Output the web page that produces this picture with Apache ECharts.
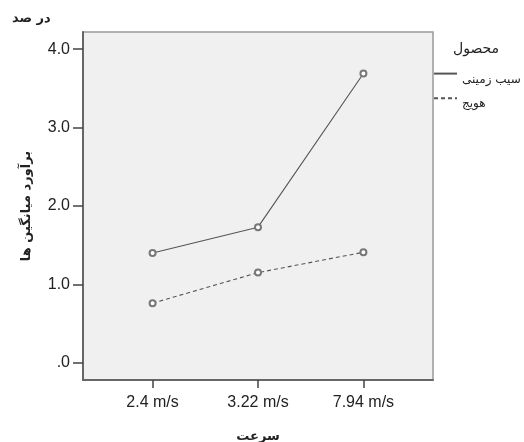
<!DOCTYPE html>
<html>
<head>
<meta charset="utf-8">
<script src="https://cdn.jsdelivr.net/npm/echarts@6/dist/echarts.min.js"></script>
<style>
html,body{margin:0;padding:0;background:#fff;}
#c{width:524px;height:442px;}
</style>
</head>
<body>
<div id="c"></div>
<script>
const categories = ['2.4 m/s', '3.22 m/s', '7.94 m/s'];
const potato = [1.40, 1.73, 3.69];
const carrot = [0.76, 1.15, 1.41];
const seriesNames = ['سیب زمینی', 'هویج'];
const yTickLabels = {0: '.0', 1: '1.0', 2: '2.0', 3: '3.0', 4: '4.0'};

const arFont = 'DejaVu Sans';
const latFont = 'Liberation Sans, Arial, sans-serif';

const chart = echarts.init(document.getElementById('c'), null, {renderer: 'canvas'});
chart.setOption({
  backgroundColor: '#ffffff',
  animation: false,
  title: [
    {text: 'در صد', left: 12, top: 12, padding: 0, textStyle: {fontFamily: arFont, fontSize: 13, fontWeight: 'bold', color: '#222'}},
    {text: 'محصول', left: 453, top: 42, padding: 0, textStyle: {fontFamily: arFont, fontSize: 14, fontWeight: 'normal', color: '#222'}}
  ],
  legend: {
    orient: 'vertical',
    left: 433,
    top: 67,
    padding: 0,
    itemWidth: 23,
    itemHeight: 14,
    itemGap: 6,
    data: seriesNames,
    itemStyle: {opacity: 0},
    formatter: '{t|{name}}',
    textStyle: {
      fontFamily: arFont, fontSize: 12, color: '#222',
      rich: {t: {fontFamily: arFont, fontSize: 12, color: '#222', padding: [12, 0, 0, 0]}}
    }
  },
  grid: {
    left: 83, top: 32, right: 91, bottom: 62,
    show: true, backgroundColor: '#f0f0f0', borderColor: '#999', borderWidth: 1.5,
    containLabel: false,
    outerBoundsMode: 'none'
  },
  xAxis: {
    type: 'value',
    min: -0.66, max: 2.66, splitNumber: 3,
    name: 'سرعت', nameLocation: 'middle', nameGap: 50,
    nameTextStyle: {fontFamily: arFont, fontSize: 13, fontWeight: 'bold', color: '#222'},
    axisLine: {show: true, onZero: false, lineStyle: {color: '#666', width: 2}},
    axisTick: {show: true, length: 8, lineStyle: {color: '#444', width: 1.5},
      customValues: [0, 1, 2]},
    splitLine: {show: false},
    axisLabel: {
      margin: 15, fontFamily: latFont, fontSize: 16, color: '#222',
      customValues: [0, 1, 2],
      formatter: function (v) { const i = Math.round(v); return Math.abs(v - i) < 1e-6 && categories[i] ? categories[i] : ''; }
    }
  },
  yAxis: {
    type: 'value',
    min: -0.22, max: 4.22,
    name: 'برآورد میانگین ها', nameLocation: 'middle', nameGap: 50, nameRotate: 90,
    nameTextStyle: {fontFamily: arFont, fontSize: 13, fontWeight: 'bold', color: '#222'},
    axisLine: {show: true, onZero: false, lineStyle: {color: '#666', width: 2}},
    axisTick: {show: true, length: 10, lineStyle: {color: '#444', width: 1.5},
      customValues: [0, 1, 2, 3, 4]},
    splitLine: {show: false},
    axisLabel: {
      margin: 13, fontFamily: latFont, fontSize: 16, color: '#222',
      customValues: [0, 1, 2, 3, 4],
      formatter: function (v) { const i = Math.round(v); return Math.abs(v - i) < 1e-6 && yTickLabels[i] !== undefined ? yTickLabels[i] : ''; }
    }
  },
  series: [
    {
      name: seriesNames[0], type: 'line',
      data: potato.map((v, i) => [i, v]),
      symbol: 'emptyCircle', symbolSize: 6,
      lineStyle: {color: '#555', width: 1.1, type: 'solid'},
      itemStyle: {color: '#777', borderWidth: 1},
      z: 3
    },
    {
      name: seriesNames[1], type: 'line',
      data: carrot.map((v, i) => [i, v]),
      symbol: 'emptyCircle', symbolSize: 6,
      lineStyle: {color: '#555', width: 1.1, type: [4, 3]},
      itemStyle: {color: '#777', borderWidth: 1},
      z: 3
    }
  ]
});
</script>
</body>
</html>
